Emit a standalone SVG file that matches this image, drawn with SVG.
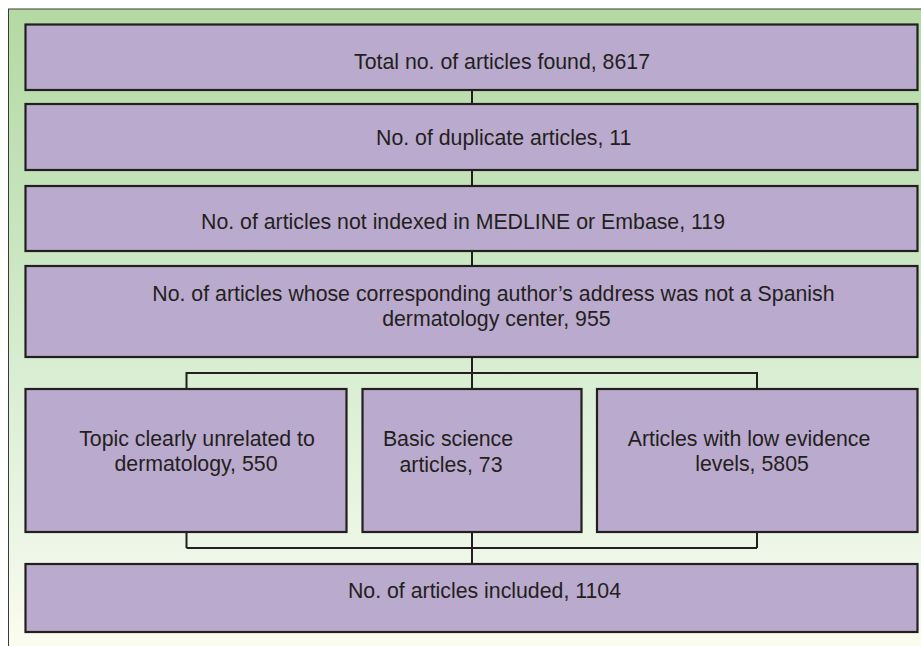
<svg xmlns="http://www.w3.org/2000/svg" width="921" height="646" viewBox="0 0 921 646">
<style>
.box{fill:#baaacd;stroke:#231f20;stroke-width:2.2}
.lbl{font-family:"Liberation Sans",Arial,sans-serif;font-size:21.3px;fill:#231f20}
.c{text-anchor:middle}
.conn{fill:none;stroke:#231f20;stroke-width:2}
</style>
<defs>
<linearGradient id="bg" x1="0" y1="0" x2="0" y2="1">
<stop offset="0" stop-color="#b4d9a3"/>
<stop offset="0.35" stop-color="#c9e5bf"/>
<stop offset="0.6" stop-color="#dcefd6"/>
<stop offset="0.85" stop-color="#eff7e8"/>
<stop offset="1" stop-color="#fdfdf1"/>
</linearGradient>
</defs>
<rect x="0" y="0" width="921" height="646" fill="#ffffff"/>
<rect x="8.5" y="9" width="920" height="650" fill="url(#bg)" stroke="#3a3a3a" stroke-width="1"/>
<g id="connectors">
<line class="conn" x1="472" y1="90" x2="472" y2="104"/>
<line class="conn" x1="472" y1="170" x2="472" y2="186"/>
<line class="conn" x1="472" y1="251" x2="472" y2="266"/>
<line class="conn" x1="472" y1="357" x2="472" y2="389"/>
<polyline class="conn" points="186.5,389 186.5,373 757,373 757,389"/>
<line class="conn" x1="186.5" y1="532" x2="186.5" y2="548"/>
<line class="conn" x1="472" y1="532" x2="472" y2="564"/>
<line class="conn" x1="757" y1="532" x2="757" y2="548"/>
<line class="conn" x1="186.5" y1="548" x2="757" y2="548"/>
</g>
<g id="n1">
<rect class="box" x="25.5" y="24.5" width="892" height="65.5"/>
<text class="lbl c" x="502" y="69.3">Total no. of articles found, 8617</text>
</g>
<g id="n2">
<rect class="box" x="25.5" y="104" width="892" height="66"/>
<text class="lbl c" x="503.7" y="145">No. of duplicate articles, 11</text>
</g>
<g id="n3">
<rect class="box" x="25.5" y="186" width="892" height="65"/>
<text class="lbl c" x="463" y="229.3">No. of articles not indexed in MEDLINE or Embase, 119</text>
</g>
<g id="n4">
<rect class="box" x="25.5" y="266" width="892" height="91"/>
<text class="lbl" x="152.3" y="300.7">No. of articles whose corresponding author’s address was not a Spanish</text>
<text class="lbl c" x="496.4" y="325.7">dermatology center, 955</text>
</g>
<g id="n5">
<rect class="box" x="25.5" y="389" width="321" height="143"/>
<text class="lbl c" x="197" y="445.7">Topic clearly unrelated to</text>
<text class="lbl c" x="196" y="471">dermatology, 550</text>
</g>
<g id="n6">
<rect class="box" x="362.5" y="389" width="219" height="143"/>
<text class="lbl c" x="448" y="445.7">Basic science</text>
<text class="lbl c" x="451" y="471.7">articles, 73</text>
</g>
<g id="n7">
<rect class="box" x="597" y="389" width="320.5" height="143"/>
<text class="lbl c" x="749" y="445.7">Articles with low evidence</text>
<text class="lbl c" x="752" y="470.7">levels, 5805</text>
</g>
<g id="n8">
<rect class="box" x="25.5" y="564" width="892" height="68"/>
<text class="lbl c" x="484.5" y="598.3">No. of articles included, 1104</text>
</g>
</svg>
